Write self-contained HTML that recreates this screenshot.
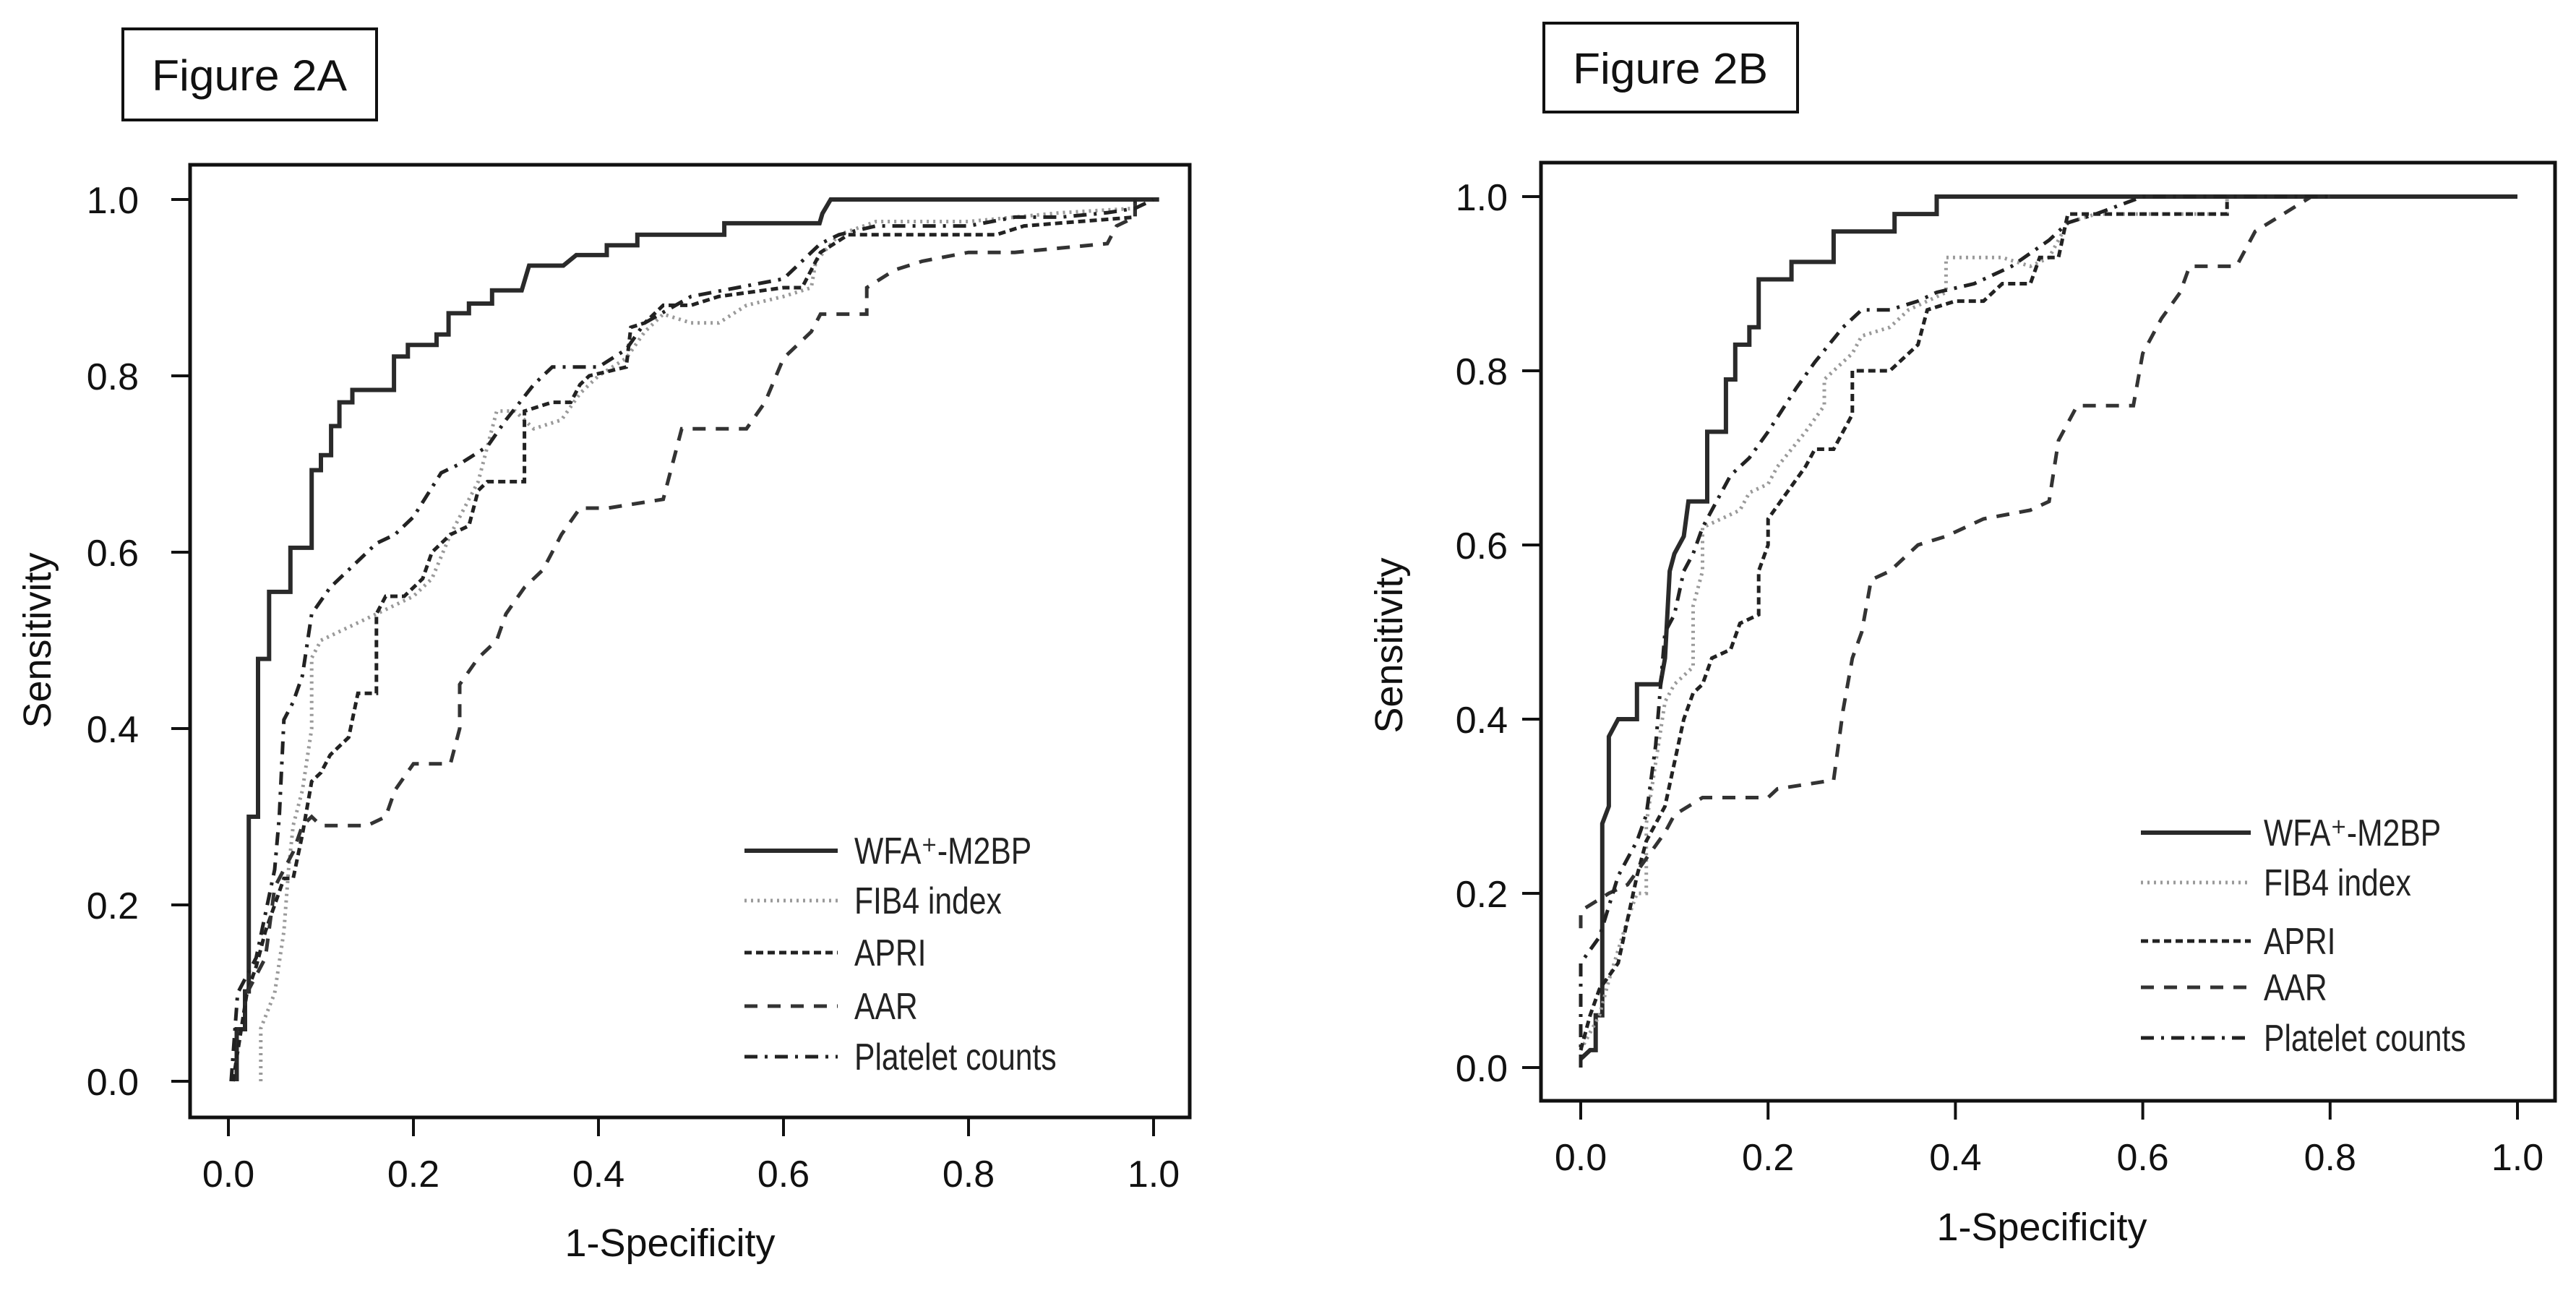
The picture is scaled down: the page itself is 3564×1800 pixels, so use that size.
<!DOCTYPE html>
<html><head><meta charset="utf-8"><style>
html,body{margin:0;padding:0;background:#fff;}
svg{display:block;}
text{font-family:"Liberation Sans",sans-serif;fill:#111;}
.leg{font-family:"Liberation Sans Narrow","Liberation Sans",sans-serif;font-size:52px;fill:#222;}
.fig{font-family:"Liberation Sans",sans-serif;font-size:60px;}
</style></head><body>
<svg id="chart" width="3564" height="1800" viewBox="0 0 3564 1800"></svg>
<script>
const tickValues = [0, 0.2, 0.4, 0.6, 0.8, 1.0];
const tickLabels = ["0.0", "0.2", "0.4", "0.6", "0.8", "1.0"];
const seriesNames = ["WFA⁺-M2BP", "FIB4 index", "APRI", "AAR", "Platelet counts"];
const seriesKeys = ["wfa", "fib4", "apri", "aar", "platelet"];

const wfaA = [[0.009,0],[0.009,0.059],[0.018,0.059],[0.018,0.102],[0.022,0.102],[0.022,0.300],[0.032,0.300],[0.032,0.479],[0.044,0.479],[0.044,0.555],[0.067,0.555],[0.067,0.605],[0.090,0.605],[0.090,0.693],[0.100,0.693],[0.100,0.710],[0.111,0.710],[0.111,0.743],[0.120,0.743],[0.120,0.770],[0.134,0.770],[0.134,0.784],[0.179,0.784],[0.179,0.822],[0.194,0.822],[0.194,0.835],[0.225,0.835],[0.225,0.847],[0.238,0.847],[0.238,0.871],[0.260,0.871],[0.260,0.882],[0.285,0.882],[0.285,0.897],[0.317,0.897],[0.325,0.925],[0.362,0.925],[0.376,0.937],[0.409,0.937],[0.409,0.948],[0.442,0.948],[0.442,0.960],[0.536,0.960],[0.536,0.973],[0.639,0.973],[0.642,0.984],[0.651,1.0],[1.006,1.0]];
const fib4A = [[0.035,0],[0.035,0.06],[0.05,0.1],[0.06,0.17],[0.065,0.24],[0.07,0.29],[0.08,0.33],[0.09,0.40],[0.09,0.48],[0.1,0.5],[0.12,0.51],[0.14,0.52],[0.16,0.53],[0.18,0.54],[0.2,0.55],[0.22,0.57],[0.24,0.62],[0.27,0.68],[0.28,0.72],[0.29,0.76],[0.31,0.76],[0.33,0.74],[0.36,0.75],[0.38,0.78],[0.4,0.8],[0.43,0.82],[0.45,0.85],[0.47,0.87],[0.5,0.86],[0.53,0.86],[0.56,0.88],[0.6,0.89],[0.63,0.9],[0.635,0.93],[0.66,0.96],[0.7,0.975],[0.8,0.975],[0.9,0.985],[0.98,0.99],[0.98,1.0]];
const apriA = [[0.005,0],[0.02,0.1],[0.03,0.13],[0.04,0.17],[0.05,0.2],[0.06,0.23],[0.07,0.23],[0.08,0.28],[0.085,0.31],[0.09,0.34],[0.1,0.35],[0.11,0.37],[0.13,0.39],[0.14,0.44],[0.16,0.44],[0.16,0.53],[0.17,0.55],[0.19,0.55],[0.21,0.57],[0.22,0.6],[0.24,0.62],[0.26,0.63],[0.27,0.67],[0.28,0.68],[0.32,0.68],[0.32,0.76],[0.35,0.77],[0.37,0.77],[0.38,0.79],[0.39,0.8],[0.43,0.81],[0.435,0.855],[0.45,0.86],[0.47,0.88],[0.5,0.88],[0.53,0.89],[0.6,0.9],[0.62,0.9],[0.64,0.94],[0.67,0.96],[0.83,0.96],[0.86,0.97],[0.98,0.98],[0.98,1.0]];
const aarA = [[0.02,0.1],[0.04,0.14],[0.05,0.22],[0.07,0.26],[0.08,0.29],[0.09,0.3],[0.1,0.29],[0.15,0.29],[0.17,0.3],[0.18,0.33],[0.2,0.36],[0.24,0.36],[0.25,0.4],[0.25,0.45],[0.27,0.48],[0.29,0.5],[0.3,0.53],[0.32,0.56],[0.34,0.58],[0.36,0.62],[0.38,0.65],[0.41,0.65],[0.47,0.66],[0.48,0.7],[0.49,0.74],[0.56,0.74],[0.58,0.77],[0.6,0.82],[0.63,0.85],[0.64,0.87],[0.69,0.87],[0.69,0.9],[0.72,0.92],[0.75,0.93],[0.8,0.94],[0.85,0.94],[0.95,0.95],[0.96,0.97],[0.98,0.98],[0.98,1.0]];
const pltA = [[0.003,0],[0.01,0.1],[0.03,0.14],[0.05,0.24],[0.055,0.3],[0.06,0.41],[0.07,0.43],[0.08,0.46],[0.09,0.53],[0.11,0.56],[0.13,0.58],[0.16,0.61],[0.18,0.62],[0.2,0.64],[0.23,0.69],[0.25,0.7],[0.28,0.72],[0.3,0.75],[0.33,0.79],[0.35,0.81],[0.4,0.81],[0.43,0.83],[0.45,0.86],[0.5,0.89],[0.55,0.9],[0.6,0.91],[0.62,0.93],[0.64,0.95],[0.66,0.96],[0.7,0.97],[0.8,0.97],[0.85,0.98],[0.9,0.98],[0.95,0.985],[0.98,0.99],[1.0,1.0]];

const wfaB = [[0.0,0.01],[0.01,0.02],[0.016,0.02],[0.016,0.06],[0.023,0.06],[0.023,0.28],[0.03,0.3],[0.03,0.38],[0.04,0.4],[0.06,0.4],[0.06,0.44],[0.085,0.44],[0.09,0.47],[0.095,0.57],[0.1,0.59],[0.11,0.61],[0.115,0.65],[0.135,0.65],[0.135,0.73],[0.155,0.73],[0.155,0.79],[0.165,0.79],[0.165,0.83],[0.18,0.83],[0.18,0.85],[0.19,0.85],[0.19,0.905],[0.225,0.905],[0.225,0.925],[0.27,0.925],[0.27,0.96],[0.335,0.96],[0.335,0.98],[0.38,0.98],[0.38,1.0],[1.0,1.0]];
const fib4B = [[0.0,0.02],[0.02,0.06],[0.03,0.1],[0.05,0.17],[0.06,0.2],[0.07,0.2],[0.07,0.28],[0.08,0.35],[0.09,0.42],[0.1,0.44],[0.12,0.46],[0.12,0.53],[0.13,0.57],[0.13,0.62],[0.15,0.63],[0.17,0.64],[0.18,0.66],[0.2,0.67],[0.21,0.69],[0.24,0.73],[0.26,0.76],[0.26,0.79],[0.29,0.82],[0.3,0.84],[0.33,0.85],[0.35,0.87],[0.39,0.89],[0.39,0.93],[0.45,0.93],[0.48,0.92],[0.5,0.93],[0.52,0.97],[0.55,0.98],[0.69,0.98],[0.69,1.0]];
const apriB = [[0.0,0.02],[0.01,0.06],[0.02,0.09],[0.04,0.12],[0.05,0.17],[0.06,0.22],[0.07,0.26],[0.09,0.3],[0.1,0.35],[0.11,0.4],[0.12,0.43],[0.13,0.44],[0.14,0.47],[0.16,0.48],[0.17,0.51],[0.19,0.52],[0.19,0.57],[0.2,0.6],[0.2,0.63],[0.22,0.66],[0.24,0.69],[0.25,0.71],[0.27,0.71],[0.29,0.75],[0.29,0.8],[0.33,0.8],[0.36,0.83],[0.37,0.87],[0.4,0.88],[0.43,0.88],[0.45,0.9],[0.48,0.9],[0.49,0.93],[0.51,0.93],[0.52,0.98],[0.69,0.98],[0.69,1.0]];
const aarB = [[0.0,0.16],[0.0,0.18],[0.03,0.2],[0.05,0.21],[0.07,0.24],[0.09,0.27],[0.1,0.29],[0.13,0.31],[0.2,0.31],[0.21,0.32],[0.27,0.33],[0.28,0.41],[0.29,0.47],[0.3,0.5],[0.31,0.56],[0.33,0.57],[0.36,0.6],[0.39,0.61],[0.43,0.63],[0.48,0.64],[0.5,0.65],[0.51,0.72],[0.53,0.76],[0.59,0.76],[0.6,0.82],[0.62,0.86],[0.64,0.89],[0.65,0.92],[0.7,0.92],[0.72,0.96],[0.75,0.98],[0.78,1.0],[0.8,1.0]];
const pltB = [[0.0,0.0],[0.0,0.12],[0.02,0.15],[0.04,0.22],[0.06,0.26],[0.07,0.29],[0.08,0.37],[0.09,0.5],[0.1,0.52],[0.11,0.57],[0.12,0.59],[0.13,0.62],[0.14,0.64],[0.16,0.68],[0.18,0.7],[0.2,0.73],[0.23,0.78],[0.25,0.81],[0.28,0.85],[0.3,0.87],[0.33,0.87],[0.36,0.88],[0.38,0.89],[0.42,0.9],[0.46,0.92],[0.5,0.95],[0.52,0.97],[0.55,0.98],[0.6,1.0],[0.8,1.0]];

const styles = {
  wfa: {stroke:"#2a2a2a", w:6, dash:""},
  fib4: {stroke:"#9a9a9a", w:5, dash:"3 6"},
  apri: {stroke:"#222", w:5, dash:"10 6"},
  aar: {stroke:"#333", w:5, dash:"18 14"},
  platelet: {stroke:"#222", w:5, dash:"18 10 4 10"}
};

const NS = "http://www.w3.org/2000/svg";
const svg = document.getElementById("chart");
function mk(tag, attrs, parent) {
  const e = document.createElementNS(NS, tag);
  for (const k in attrs) e.setAttribute(k, attrs[k]);
  (parent || svg).appendChild(e);
  return e;
}
function squeeze(t, f) {
  const w = t.getComputedTextLength();
  if (w > 0) { t.setAttribute("textLength", (w * f).toFixed(1)); t.setAttribute("lengthAdjust", "spacingAndGlyphs"); }
}

const panels = [
  {id:"a", label:"Figure  2A", fb:[170,40,351,126], x0:316, x1:1596, y0:1496, y1:276, box:[263,228,1383,1318],
   ylabX:192, ytitle:[70,886], xtitle:[927,1738], legLine:[1030,1159], legText:1182, legY:[1177,1246,1318,1392,1462],
   data:{wfa:wfaA, fib4:fib4A, apri:apriA, aar:aarA, platelet:pltA}},
  {id:"b", label:"Figure  2B", fb:[2136,32,351,123], x0:2187, x1:3483, y0:1477, y1:272, box:[2132,225,1403,1298],
   ylabX:2086, ytitle:[1940,893], xtitle:[2825,1716], legLine:[2962,3114], legText:3132, legY:[1152,1221,1302,1366,1436],
   data:{wfa:wfaB, fib4:fib4B, apri:apriB, aar:aarB, platelet:pltB}}
];

panels.forEach(p => {
  const g = mk("g", {});
  
  
  const sx = v => p.x0 + v * (p.x1 - p.x0);
  const sy = v => p.y0 + v * (p.y1 - p.y0);

  const fb = mk("rect", {x:p.fb[0], y:p.fb[1], width:p.fb[2], height:p.fb[3], fill:"none", stroke:"#111", "stroke-width":4}, g);
  
  
  const ft = mk("text", {x:p.fb[0]+40, y:p.fb[1]+p.fb[3]/2+22, class:"fig", "xml:space":"preserve"}, g);
  ft.textContent = p.label;
  
  
  ft.setAttribute("textLength", "270");
  ft.setAttribute("lengthAdjust", "spacingAndGlyphs");

  const box = mk("rect", {x:p.box[0], y:p.box[1], width:p.box[2], height:p.box[3], fill:"none", stroke:"#111", "stroke-width":5}, g);
  
  

  tickValues.forEach((v, i) => {
    const xb = p.box[1] + p.box[3];
    const t = mk("line", {x1:sx(v), x2:sx(v), y1:xb, y2:xb+26, stroke:"#111", "stroke-width":4}, g);
    
    
    const tl = mk("text", {x:sx(v), y:xb+96, "text-anchor":"middle", "font-size":52}, g);
    tl.textContent = tickLabels[i];
    
    
    const yt = mk("line", {x1:p.box[0]-26, x2:p.box[0], y1:sy(v), y2:sy(v), stroke:"#111", "stroke-width":4}, g);
    
    
    const yl = mk("text", {x:p.ylabX, y:sy(v)+19, "text-anchor":"end", "font-size":52}, g);
    yl.textContent = tickLabels[i];
    
    
  });

  const yT = mk("text", {x:p.ytitle[0], y:p.ytitle[1], "text-anchor":"middle", "font-size":54, transform:"rotate(-90 "+p.ytitle[0]+" "+p.ytitle[1]+")"}, g);
  yT.textContent = "Sensitivity";
  
  
  const xT = mk("text", {x:p.xtitle[0], y:p.xtitle[1], "text-anchor":"middle", "font-size":54}, g);
  xT.textContent = "1-Specificity";
  
  

  seriesKeys.forEach((k, i) => {
    const st = styles[k];
    const pts = p.data[k].map(d => sx(d[0]).toFixed(1) + "," + sy(d[1]).toFixed(1)).join(" ");
    const line = mk("polyline", {points:pts, fill:"none", stroke:st.stroke, "stroke-width":st.w, "stroke-dasharray":st.dash, "stroke-linejoin":"miter"}, g);
    
    

    const ly = p.legY[i];
    const ll = mk("line", {x1:p.legLine[0], x2:p.legLine[1], y1:ly, y2:ly, stroke:st.stroke, "stroke-width":st.w, "stroke-dasharray":st.dash}, g);
    
    
    const lt = mk("text", {x:p.legText, y:ly+18, class:"leg"}, g);
    lt.textContent = seriesNames[i];
    
    
    squeeze(lt, 0.82);
  });
});
</script>
</body></html>
